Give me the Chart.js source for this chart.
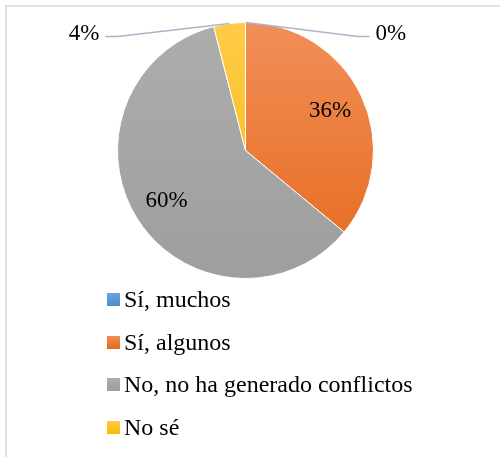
<!DOCTYPE html>
<html lang="es">
<head>
<meta charset="utf-8">
<title>Conflictos</title>
<style>
	body { margin: 0; background: #fff; }
	#wrap { position: relative; width: 500px; height: 457px; overflow: hidden; }
	#frame { position: absolute; left: 5px; top: 5px; width: 500px; height: 460px; border-left: 2px solid #dfe3e9; border-top: 2px solid #dfe3e9; }
	#pieChart { position: absolute; left: 0; top: 0; }
	#legend { position: absolute; left: 107px; top: 278px; margin: 0; padding: 0; list-style: none; font-family: "Liberation Serif", Tinos, "Times New Roman", "DejaVu Serif", serif; font-size: 24px; color: #000; }
	#legend li { height: 42.7px; display: flex; align-items: center; }
	#legend span.box { width: 13px; height: 13px; margin-right: 4px; display: inline-block; }
</style>
</head>
<body>
	<div id="wrap">
		<div id="frame"></div>
		<canvas id="pieChart" width="500" height="457"></canvas>
		<ul id="legend"></ul>
	</div>

	<script src="https://cdn.jsdelivr.net/npm/chart.js@4/dist/chart.umd.min.js"></script>
	<script>
		const categories = ['Sí, muchos', 'Sí, algunos', 'No, no ha generado conflictos', 'No sé'];
		const percents = [0, 36, 60, 4];
		const colorTop = ['#6aa6dd', '#f18f58', '#adadad', '#ffcb4a'];
		const colorBottom = ['#4a8ccb', '#e6691c', '#9e9e9e', '#f5bb00'];
		const labelFont = '23px "Liberation Serif", Tinos, "Times New Roman", "DejaVu Serif", serif';

		function sliceFill(ctx) {
			const area = ctx.chart.chartArea;
			const i = ctx.dataIndex;
			if (!area) return colorBottom[i];
			const g = ctx.chart.ctx.createLinearGradient(0, area.top, 0, area.bottom);
			g.addColorStop(0, colorTop[i]);
			g.addColorStop(1, colorBottom[i]);
			return g;
		}

		// etiquetas de porcentaje (dentro o fuera con línea guía)
		const pctLabels = {
			id: 'pctLabels',
			afterDatasetsDraw(chart) {
				const c = chart.ctx;
				const meta = chart.getDatasetMeta(0);
				c.save();
				c.font = labelFont;
				c.fillStyle = '#000';
				c.textBaseline = 'middle';
				meta.data.forEach((arc, i) => {
					const p = arc.getProps(['x', 'y', 'startAngle', 'endAngle', 'outerRadius'], true);
					const mid = (p.startAngle + p.endAngle) / 2;
					const txt = percents[i] + '%';
					if (percents[i] >= 10) {
						const r = p.outerRadius * 0.73;
						c.textAlign = 'center';
						c.fillText(txt, p.x + r * Math.cos(mid), p.y + r * Math.sin(mid));
					} else {
						const ex = p.x + p.outerRadius * Math.cos(mid);
						const ey = p.y + p.outerRadius * Math.sin(mid);
						const dir = Math.cos(mid) < -0.01 ? -1 : 1;
						const ly = p.y - p.outerRadius + 14;
						const kx = ex + dir * 112;
						const lx = kx + dir * 12;
						c.strokeStyle = '#a9b6c8';
						c.lineWidth = 1.5;
						c.beginPath();
						c.moveTo(ex, ey);
						c.lineTo(kx, ly);
						c.lineTo(lx, ly);
						c.stroke();
						c.textAlign = dir < 0 ? 'right' : 'left';
						c.fillText(txt, lx + dir * 6, ly - 3);
					}
				});
				c.restore();
			}
		};

		function drawChart() {
			new Chart(document.getElementById('pieChart'), {
				type: 'pie',
				data: {
					labels: categories,
					datasets: [{
						data: percents,
						backgroundColor: sliceFill,
						borderColor: '#ffffff',
						borderWidth: 1
					}]
				},
				options: {
					responsive: false,
					animation: false,
					layout: { padding: { left: 117, right: 126, top: 22, bottom: 178 } },
					plugins: {
						legend: { display: false },
						tooltip: { enabled: false }
					}
				},
				plugins: [pctLabels]
			});
		}

		// leyenda vertical
		const legend = document.getElementById('legend');
		categories.forEach((name, i) => {
			const li = document.createElement('li');
			const box = document.createElement('span');
			box.className = 'box';
			box.style.background = 'linear-gradient(' + colorTop[i] + ', ' + colorBottom[i] + ')';
			li.appendChild(box);
			li.appendChild(document.createTextNode(name));
			legend.appendChild(li);
		});

		document.fonts.load(labelFont).then(drawChart, drawChart);
	</script>
</body>
</html>
